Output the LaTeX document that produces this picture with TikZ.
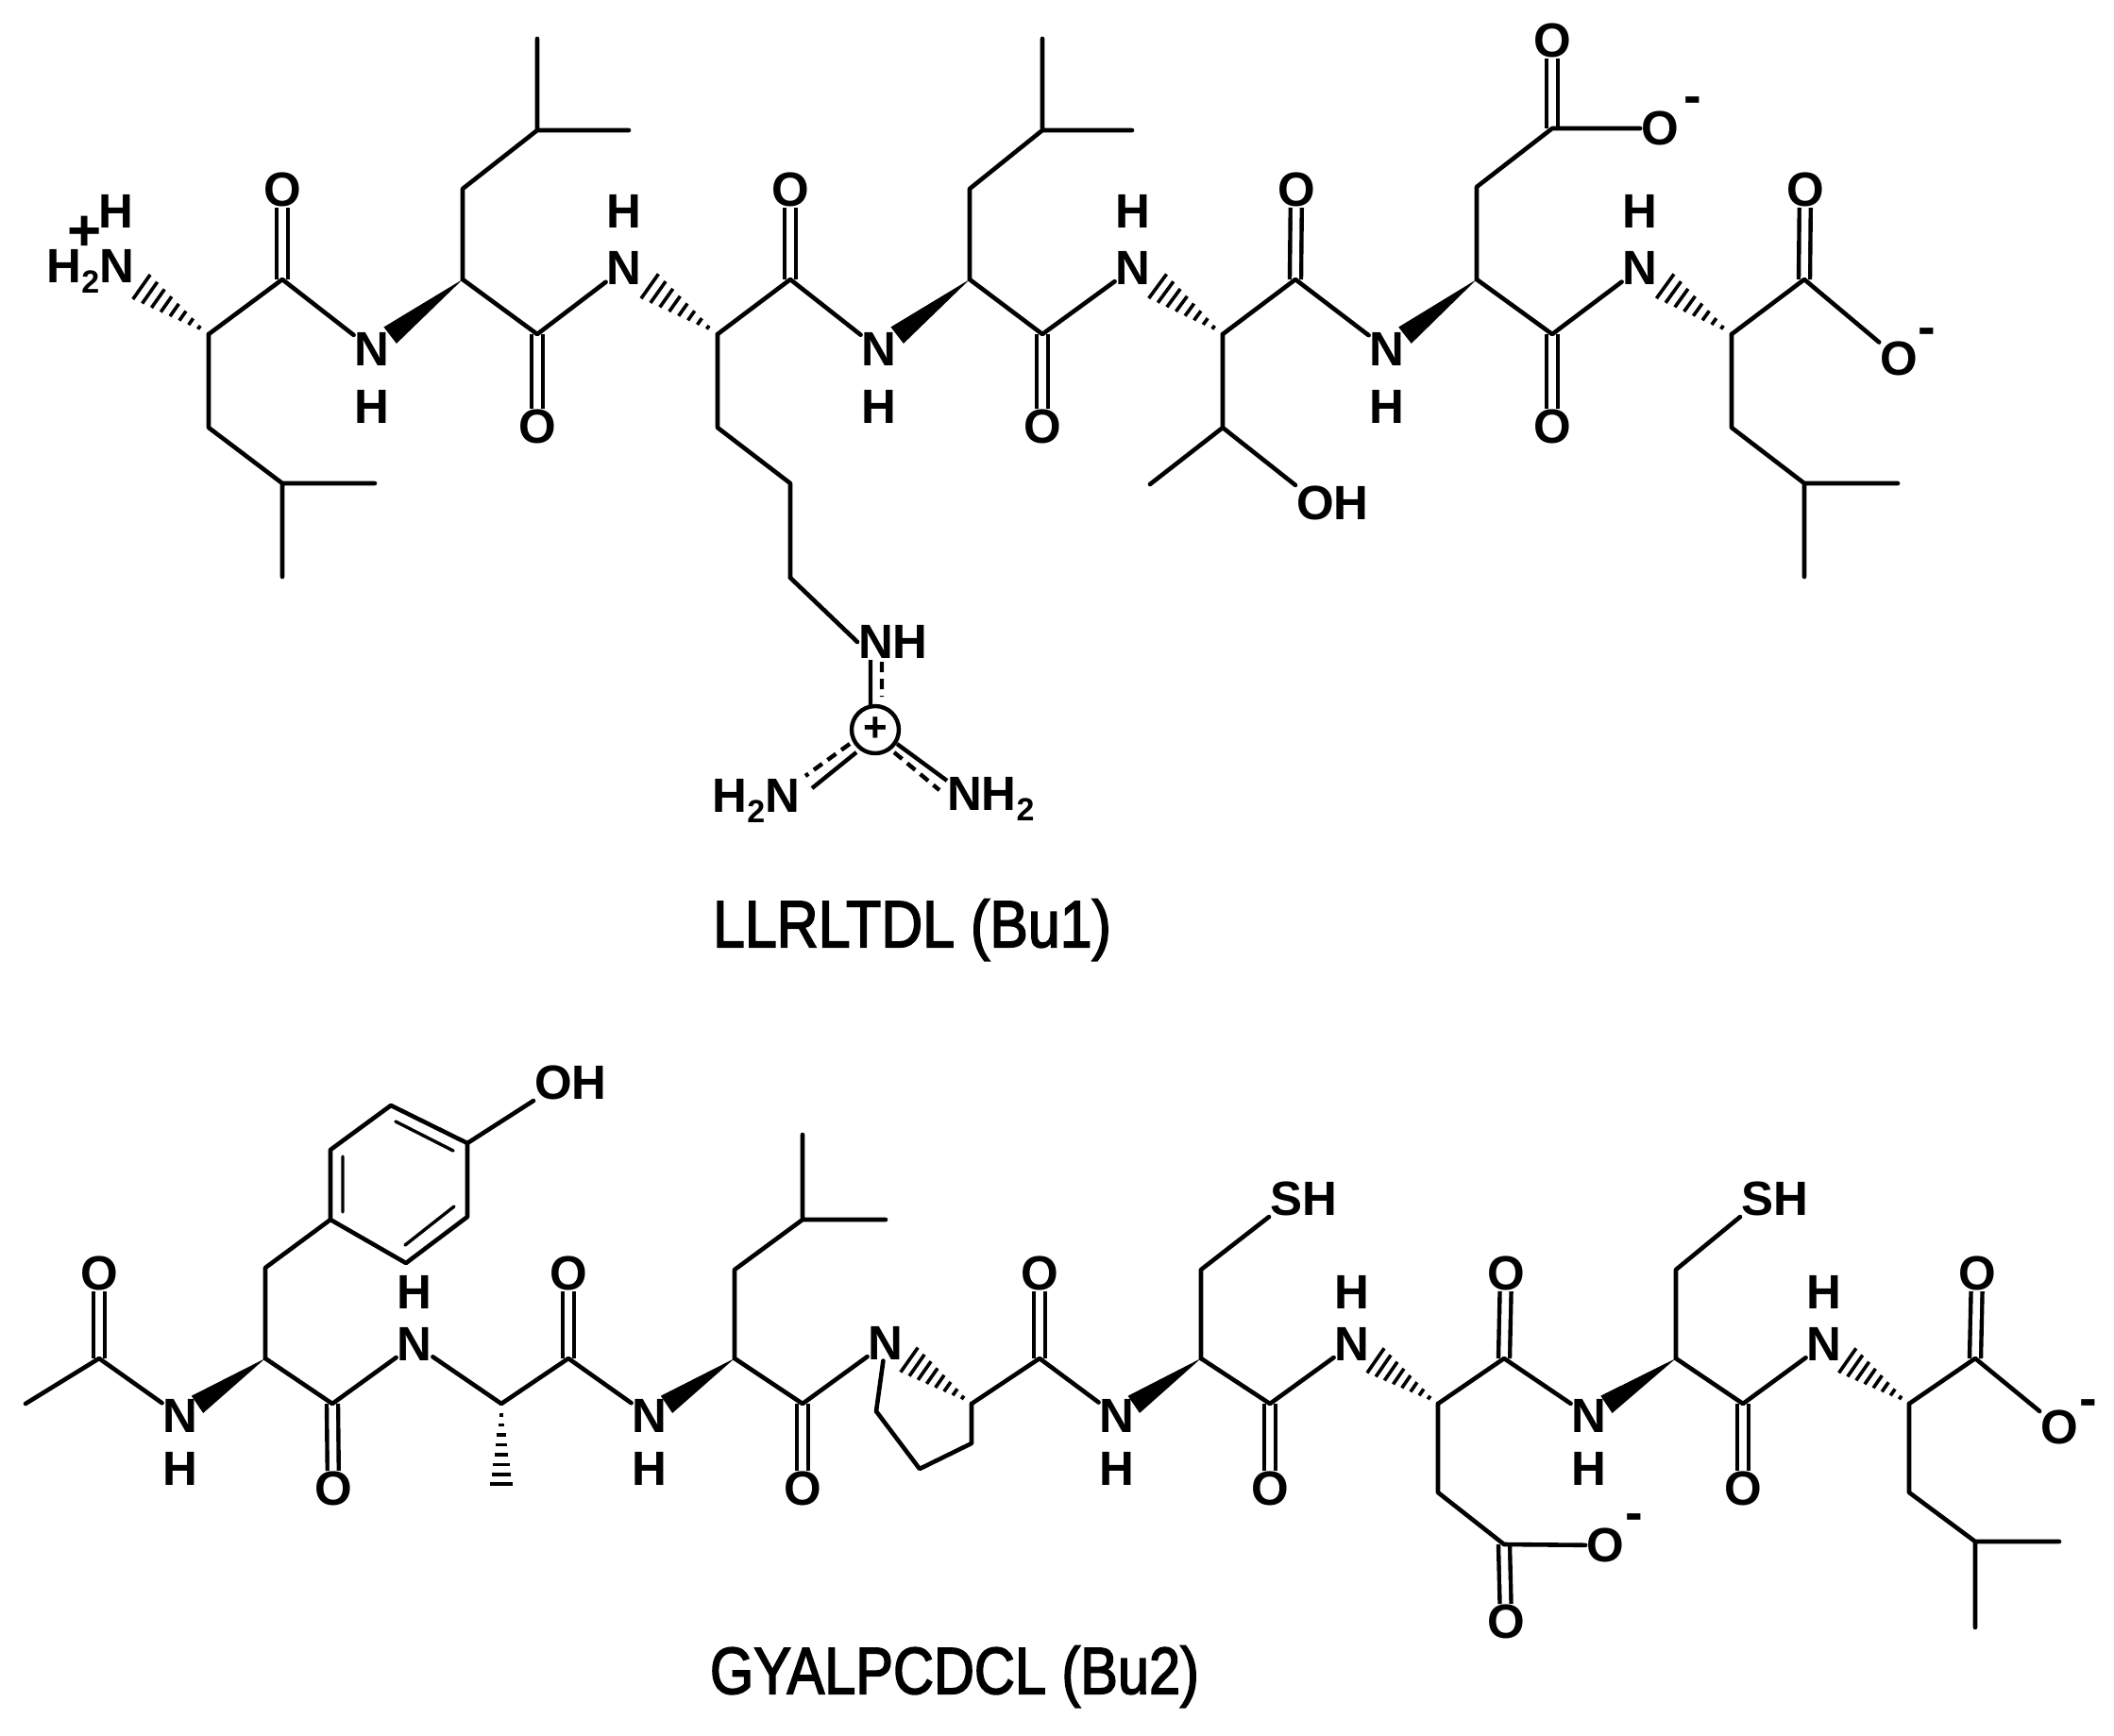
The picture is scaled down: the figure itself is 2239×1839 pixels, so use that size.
\documentclass[tikz,border=0pt]{standalone}
\usepackage{fontspec}
\usepackage{graphicx}
\setmainfont{Liberation Sans}
\newfontfamily\capfont[FakeBold=2.5]{Liberation Sans}
\usetikzlibrary{calc}
\tikzset{
  atom/.style={inner sep=1pt,outer sep=0pt,font=\fontsize{51}{51}\selectfont\bfseries},
  sign/.style={inner sep=0pt,font=\fontsize{56}{56}\selectfont\bfseries},
  caption/.style={inner sep=0pt,font=\capfont\fontsize{70}{70}\selectfont},
  bond/.style={line width=4.6pt,line cap=round,line join=round},
  dbl/.style={line width=4.4pt,double,double distance=7.6pt},
  hashline/.style={line width=3.6pt},
  dashbond/.style={line width=4.4pt,dash pattern=on 11pt off 7pt}
}
\newcommand{\subtwo}{\raisebox{-11pt}{\fontsize{34}{34}\selectfont 2}}
\newcommand{\hashb}[3]{\foreach \t [evaluate=\t as \w using 12*\t/#3] in {.14,.26,...,1}
  {\draw[hashline] ($(#1)!\t*#3!(#2)!\w pt!90:(#2)$) -- ($(#1)!\t*#3!(#2)!\w pt!-90:(#2)$);}}
\newcommand{\wedgeb}[2]{\fill ($(#1)$) -- ($(#1)!.8!(#2)!11pt!90:(#2)$) -- ($(#1)!.8!(#2)!11pt!-90:(#2)$) -- cycle;}
\begin{document}
\begin{tikzpicture}[x=1pt,y=-1pt]
\fill[white] (0,0) rectangle (2239,1839);
\useasboundingbox (0,0) rectangle (2239,1839);

% ---------- top peptide ----------
\foreach \n/\x/\y in {a1/221/354,c1/299/296,a2/490/296,c2/569/354,a3/760/354,c3/837/296,a4/1027/296,c4/1104/354,a5/1295/354,c5/1372/296,a6/1564/296,c6/1644/354,a7/1834/354,c7/1911/296,
 l1a/221/453,l1b/299/512,l1c/397/512,l1d/299/611,
 l2a/490/200,l2b/569/138,l2c/666/138,l2d/569/41,
 r1/760/453,r2/837/512,r3/837/612,
 l4a/1027/200,l4b/1104/138,l4c/1199/138,l4d/1104/41,
 t1/1295/453,t2/1218/513,
 d1/1564/198,d2/1644/136,
 l7a/1834/453,l7b/1911/512,l7c/2010/512,l7d/1911/611,
 nzero/123/285}
 {\coordinate (\n) at (\x,\y);}

\node[atom] (o1) at (299,201) {O};
\node[atom] (n1) at (394,370) {N};
\node[atom] (h1) at (394,431) {H};
\node[atom] (o2) at (569,452) {O};
\node[atom] (n2) at (661,284) {N};
\node[atom] (h2) at (661,224) {H};
\node[atom] (o3) at (837,201) {O};
\node[atom] (n3) at (931,370) {N};
\node[atom] (h3) at (931,431) {H};
\node[atom] (o4) at (1104,452) {O};
\node[atom] (n4) at (1200,284) {N};
\node[atom] (h4) at (1200,224) {H};
\node[atom] (o5) at (1373,201) {O};
\node[atom] (n5) at (1469,370) {N};
\node[atom] (h5) at (1469,431) {H};
\node[atom] (o6) at (1644,452) {O};
\node[atom] (n6) at (1737,284) {N};
\node[atom] (h6) at (1737,224) {H};
\node[atom] (o7) at (1912,201) {O};
\node[atom] (om7) at (2011,380) {O};
\node[sign] (mm7) at (2041,357) {-};
\node[atom] (od) at (1644,43) {O};
\node[atom] (omd) at (1758,136) {O};
\node[sign] (mmd) at (1793,112) {-};
\node[atom,anchor=west] (oht) at (1372,533) {OH};
\node[atom] (hz) at (123,224) {H};
\node[sign,font=\fontsize{62}{62}\selectfont\bfseries] (pz) at (90,247) {+};
\node[atom,anchor=east] (nz) at (143,287) {H\subtwo N};

% doubles
\foreach \u/\v in {c1/o1,c2/o2,c3/o3,c4/o4,c5/o5,c6/o6,c7/o7,d2/od}
  \draw[dbl] (\u) -- (\v);
% singles
\draw[bond] (a1) -- (c1) -- (n1);
\draw[bond] (a2) -- (c2) -- (n2);
\draw[bond] (a3) -- (c3) -- (n3);
\draw[bond] (a4) -- (c4) -- (n4);
\draw[bond] (a5) -- (c5) -- (n5);
\draw[bond] (a6) -- (c6) -- (n6);
\draw[bond] (a7) -- (c7) -- (om7);
\draw[bond] (a1) -- (l1a) -- (l1b) -- (l1c) (l1b) -- (l1d);
\draw[bond] (a2) -- (l2a) -- (l2b) -- (l2c) (l2b) -- (l2d);
\draw[bond] (a3) -- (r1) -- (r2) -- (r3);
\draw[bond] (a4) -- (l4a) -- (l4b) -- (l4c) (l4b) -- (l4d);
\draw[bond] (a5) -- (t1) -- (t2) (t1) -- (oht.north west);
\draw[bond] (a6) -- (d1) -- (d2) -- (omd);
\draw[bond] (a7) -- (l7a) -- (l7b) -- (l7c) (l7b) -- (l7d);
% wedges
\wedgeb{a2}{n1}\wedgeb{a4}{n3}\wedgeb{a6}{n5}
\hashb{a1}{nzero}{.74}\hashb{a3}{n2}{.74}\hashb{a5}{n4}{.74}\hashb{a7}{n6}{.74}

% guanidinium
\node[atom,anchor=west] (gnh) at (908,680) {NH};
\node[draw,circle,line width=4.4pt,minimum size=50pt,inner sep=0pt] (gc) at (927,773) {};
\node[sign,font=\fontsize{44}{44}\selectfont\bfseries] (gp) at (927,773) {+};
\node[atom,anchor=east] (gl) at (848,848) {H\subtwo N};
\node[atom,anchor=west] (gr) at (1002,846) {NH\subtwo};
\foreach \n/\x/\y in {gt1/922/699,gt2/922/748,gt3/934/701,gt4/934/738,
  gl1/907/797,gl2/860/835,gl3/900/788,gl4/853/822,
  gr1/950/788,gr2/1003/827,gr3/947/797,gr4/995/837}
  {\coordinate (\n) at (\x,\y);}
\draw[bond] (r3) -- (gnh.west);
\draw[line width=4.4pt] (gt1) -- (gt2) (gl1) -- (gl2) (gr1) -- (gr2);
\draw[dashbond] (gt3) -- (gt4) (gl3) -- (gl4) (gr3) -- (gr4);

\node[caption] (t1cap) at (966,985) {\scalebox{.87}[1]{LLRLTDL (Bu1)}};

% ---------- bottom peptide ----------
\foreach \n/\x/\y in {bme/27/1487,bc0/105/1439,ba1/281/1439,bc1/352/1487,ba2/531/1487,bc2/602/1439,ba3/778/1439,bc3/850/1487,
 ba4/1029/1487,bc4/1101/1439,ba5/1272/1439,bc5/1345/1487,ba6/1523/1487,bc6/1593/1439,ba7/1775/1439,bc7/1846/1487,ba8/2022/1487,bc8/2092/1439,
 ty1/281/1343,ra/350/1292,rb/350/1218,rc/414/1171,rd/495/1211,re/495/1289,rf/430/1338,
 ramid/531/1574,
 bl3a/778/1345,bl3b/850/1292,bl3c/938/1292,bl3d/850/1202,
 pa/928/1495,pb/974/1556,pc/1029/1529,
 cy1/1272/1345,cy2/1775/1345,
 ad1/1523/1581,ad2/1593/1636,
 bl8a/2022/1581,bl8b/2092/1633,bl8c/2181/1633,bl8d/2092/1724,
 ri1/363/1225,ri2/363/1284,ri3/419/1188,ri4/480/1219,ri5/481/1278,ri6/429/1319}
 {\coordinate (\n) at (\x,\y);}

\node[atom] (bo0) at (105,1349) {O};
\node[atom] (bn1) at (191,1500) {N};
\node[atom] (bh1) at (191,1556) {H};
\node[atom] (bo1) at (353,1577) {O};
\node[atom] (bn2) at (439,1424) {N};
\node[atom] (bh2) at (439,1369) {H};
\node[atom] (bo2) at (602,1349) {O};
\node[atom] (bn3) at (688,1500) {N};
\node[atom] (bh3) at (688,1556) {H};
\node[atom] (bo3) at (850,1577) {O};
\node[atom] (bn4) at (938,1423) {N};
\node[atom] (bo4) at (1101,1349) {O};
\node[atom] (bn5) at (1183,1500) {N};
\node[atom] (bh5) at (1183,1556) {H};
\node[atom] (bo5) at (1345,1577) {O};
\node[atom] (bn6) at (1432,1424) {N};
\node[atom] (bh6) at (1432,1369) {H};
\node[atom] (bo6) at (1595,1349) {O};
\node[atom] (bn7) at (1683,1500) {N};
\node[atom] (bh7) at (1683,1556) {H};
\node[atom] (bo7) at (1846,1577) {O};
\node[atom] (bn8) at (1932,1424) {N};
\node[atom] (bh8) at (1932,1369) {H};
\node[atom] (bo8) at (2094,1349) {O};
\node[atom] (bom8) at (2181,1512) {O};
\node[sign] (bmm8) at (2212,1492) {-};
\node[atom] (bod1) at (1595,1718) {O};
\node[atom] (bod2) at (1700,1637) {O};
\node[sign] (bmd) at (1731,1613) {-};
\node[atom,anchor=west] (boh) at (565,1147) {OH};
\node[atom,anchor=west] (bsh1) at (1344,1270) {SH};
\node[atom,anchor=west] (bsh2) at (1843,1270) {SH};

\foreach \u/\v in {bc0/bo0,bc1/bo1,bc2/bo2,bc3/bo3,bc4/bo4,bc5/bo5,bc6/bo6,bc7/bo7,bc8/bo8,ad2/bod1}
  \draw[dbl] (\u) -- (\v);
\draw[bond] (bme) -- (bc0) -- (bn1);
\draw[bond] (ba1) -- (bc1) -- (bn2) -- (ba2) -- (bc2) -- (bn3);
\draw[bond] (ba3) -- (bc3) -- (bn4);
\draw[bond] (ba4) -- (bc4) -- (bn5);
\draw[bond] (ba5) -- (bc5) -- (bn6);
\draw[bond] (ba6) -- (bc6) -- (bn7);
\draw[bond] (ba7) -- (bc7) -- (bn8);
\draw[bond] (ba8) -- (bc8) -- (bom8);
\draw[bond] (ba1) -- (ty1) -- (ra);
\draw[bond] (ra) -- (rb) -- (rc) -- (rd) -- (re) -- (rf) -- cycle;
\draw[bond] (rd) -- (boh.south west);
\draw[line width=3.4pt,line cap=round] (ri1) -- (ri2) (ri3) -- (ri4) (ri5) -- (ri6);
\draw[bond] (ba3) -- (bl3a) -- (bl3b) -- (bl3c) (bl3b) -- (bl3d);
\draw[bond] (bn4) -- (pa) -- (pb) -- (pc) -- (ba4);
\draw[bond] (ba5) -- (cy1) -- (bsh1.south west);
\draw[bond] (ba7) -- (cy2) -- (bsh2.south west);
\draw[bond] (ba6) -- (ad1) -- (ad2) -- (bod2);
\draw[bond] (ba8) -- (bl8a) -- (bl8b) -- (bl8c) (bl8b) -- (bl8d);
\wedgeb{ba1}{bn1}\wedgeb{ba3}{bn3}\wedgeb{ba5}{bn5}\wedgeb{ba7}{bn7}
\hashb{ba2}{ramid}{1}\hashb{ba4}{bn4}{.74}\hashb{ba6}{bn6}{.74}\hashb{ba8}{bn8}{.74}

\node[caption] (t2cap) at (1011,1776) {\scalebox{.85}[1]{GYALPCDCL (Bu2)}};
\end{tikzpicture}
\end{document}
